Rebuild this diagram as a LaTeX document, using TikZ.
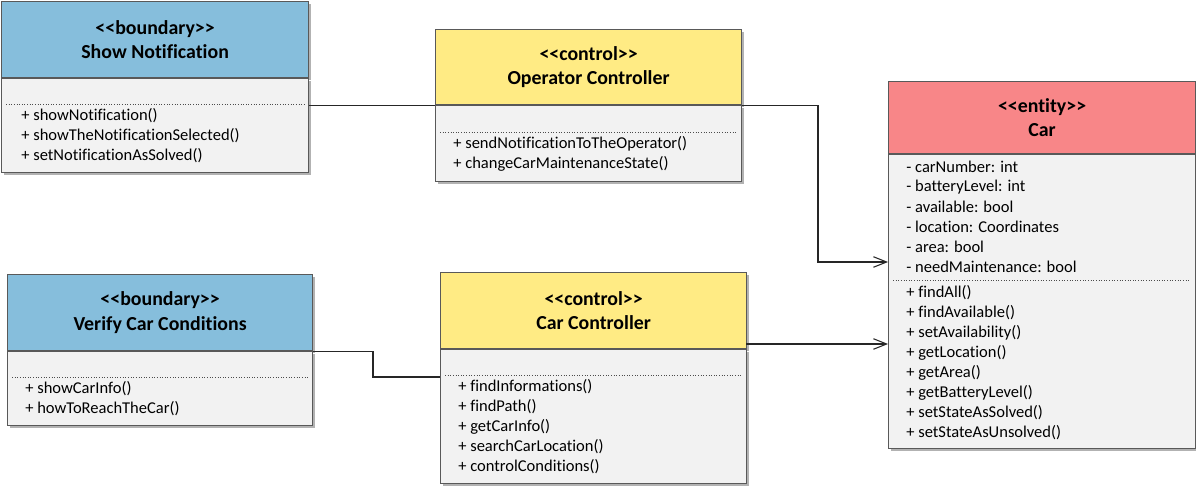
\documentclass[tikz,border=0pt]{standalone}
\usepackage{fontspec}
\setmainfont{Carlito}[Ligatures={TeXOff,NoCommon}]
\usepackage{tikz}
\usetikzlibrary{arrows.meta,positioning,calc,shadows}
\usepackage{xcolor}
\definecolor{bndblue}{RGB}{134,190,220}
\definecolor{ctlyellow}{RGB}{255,235,132}
\definecolor{entred}{RGB}{248,134,136}
\definecolor{bodygray}{RGB}{242,242,242}

\begin{document}
\begin{tikzpicture}[
    x=0.02cm, y=-0.02cm,
    font=\fontsize{9.4}{11}\selectfont,
    cls/.style={draw=black!65, line width=0.7pt, anchor=north west, inner sep=0pt,
      drop shadow={shadow xshift=1.2pt, shadow yshift=-1.2pt, fill=black!30, opacity=1}},
    hdr/.style={cls, align=center, font=\bfseries\fontsize{11.3}{14}\selectfont},
    bdy/.style={cls, fill=bodygray},
    mtxt/.style={anchor=west, inner sep=0pt},
    sep/.style={densely dotted, black!70, line width=0.5pt},
    link/.style={black!85, line width=0.6pt},
    assoc/.style={link, -{Straight Barb[length=7.5pt, width=6pt]}},
  ]
    \useasboundingbox (0,0) rectangle (1196,486);

    % boundary: show notification
    \node[hdr, fill=bndblue, minimum width=6.14cm, minimum height=1.52cm] (snhd) at (1,1)
      {<<boundary>>\\Show Notification};
    \node[bdy, minimum width=6.14cm, minimum height=1.88cm] (snbd) at (snhd.south west) {};
    \draw[sep] (6,104) -- (304,104);
    \foreach \m [count=\i] in {showNotification(), showTheNotificationSelected(), setNotificationAsSolved()}
      \node[mtxt] at (21,96+20*\i) {+ \m};

    % control: operator controller
    \node[hdr, fill=ctlyellow, minimum width=6.12cm, minimum height=1.5cm] (ochd) at (435,29)
      {<<control>>\\Operator Controller};
    \node[bdy, minimum width=6.12cm, minimum height=1.52cm] (ocbd) at (ochd.south west) {};
    \draw[sep] (440,132) -- (737,132);
    \foreach \m [count=\i] in {sendNotificationToTheOperator(), changeCarMaintenanceState()}
      \node[mtxt] at (453,124+20*\i) {+ \m};

    % entity: car
    \node[hdr, fill=entred, minimum width=6.14cm, minimum height=1.44cm] (carhd) at (888,81)
      {<<entity>>\\Car};
    \node[bdy, minimum width=6.14cm, minimum height=5.88cm] (carbd) at (carhd.south west) {};
    \foreach \a [count=\i] in {carNumber: int, batteryLevel: int, available: bool,
        location: Coordinates, area: bool, needMaintenance: bool}
      \node[mtxt] at (906,147+20*\i) {- \a};
    \draw[sep] (893,280) -- (1190,280);
    \foreach \m [count=\i] in {findAll(), findAvailable(), setAvailability(), getLocation(),
        getArea(), getBatteryLevel(), setStateAsSolved(), setStateAsUnsolved()}
      \node[mtxt] at (906,273+20*\i) {+ \m};

    % boundary: verify car conditions
    \node[hdr, fill=bndblue, minimum width=6.1cm, minimum height=1.52cm] (vchd) at (7,274)
      {<<boundary>>\\Verify Car Conditions};
    \node[bdy, minimum width=6.1cm, minimum height=1.48cm] (vcbd) at (vchd.south west) {};
    \draw[sep] (12,377) -- (308,377);
    \foreach \m [count=\i] in {showCarInfo(), howToReachTheCar()}
      \node[mtxt] at (25,369+20*\i) {+ \m};

    % control: car controller
    \node[hdr, fill=ctlyellow, minimum width=6.12cm, minimum height=1.52cm] (cchd) at (440,272)
      {<<control>>\\Car Controller};
    \node[bdy, minimum width=6.12cm, minimum height=2.68cm] (ccbd) at (cchd.south west) {};
    \draw[sep] (445,375) -- (742,375);
    \foreach \m [count=\i] in {findInformations(), findPath(), getCarInfo(), searchCarLocation(),
        controlConditions()}
      \node[mtxt] at (458,367+20*\i) {+ \m};

    % connectors
    \coordinate (ocbend) at (818,262);
    \coordinate (vcbend) at (373,377);
    \coordinate (ccout) at (746,344);
    \draw[link] (ochd.south west) -- (ochd.south west -| snbd.east);
    \draw[assoc] (ochd.south east) -| (ocbend) -- (ocbend -| carbd.west);
    \draw[link] (vchd.south east) -| (vcbend) -- (vcbend -| ccbd.west);
    \draw[assoc] (ccout) -- (ccout -| carbd.west);
  \end{tikzpicture}
\end{document}
